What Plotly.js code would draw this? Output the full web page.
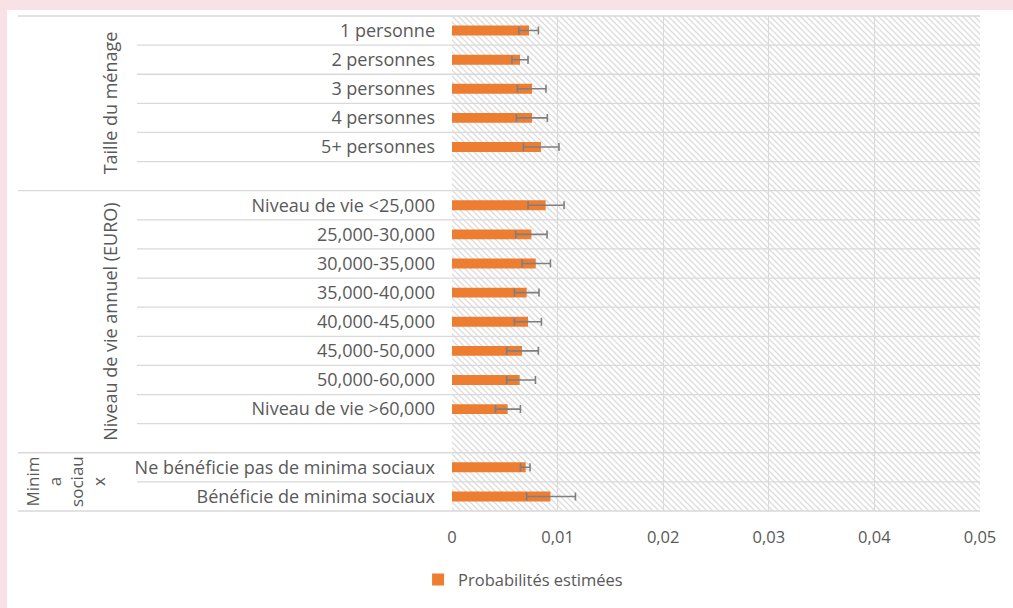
<!DOCTYPE html>
<html>
<head>
<meta charset="utf-8">
<script src="https://cdn.plot.ly/plotly-3.0.1.min.js"></script>
<style>
  html, body { margin: 0; padding: 0; background: #f9e2e5; width: 1013px; height: 608px; overflow: hidden; }
  #chart { position: absolute; left: 7px; top: 10px; width: 1006px; height: 598px; background: #ffffff; }
</style>
</head>
<body>
<div id="chart"></div>
<script>
// ---- Data ----
const categories = [
  "1 personne", "2 personnes", "3 personnes", "4 personnes", "5+ personnes", " ",
  "Niveau de vie <25,000", "25,000-30,000", "30,000-35,000", "35,000-40,000",
  "40,000-45,000", "45,000-50,000", "50,000-60,000", "Niveau de vie >60,000", "  ",
  "Ne bénéficie pas de minima sociaux", "Bénéficie de minima sociaux"
];
const barCategories = [
  "1 personne", "2 personnes", "3 personnes", "4 personnes", "5+ personnes",
  "Niveau de vie <25,000", "25,000-30,000", "30,000-35,000", "35,000-40,000",
  "40,000-45,000", "45,000-50,000", "50,000-60,000", "Niveau de vie >60,000",
  "Ne bénéficie pas de minima sociaux", "Bénéficie de minima sociaux"
];
const probabilites = [0.00729, 0.00644, 0.00758, 0.00758, 0.00843,
  0.00887, 0.00752, 0.00793, 0.00707, 0.00720, 0.00663, 0.00641, 0.00527,
  0.00698, 0.00932];
const borneBasse = [0.00632, 0.00568, 0.00619, 0.00610, 0.00676,
  0.00720, 0.00603, 0.00663, 0.00591, 0.00591, 0.00518, 0.00518, 0.00411,
  0.00648, 0.00707];
const borneHaute = [0.00818, 0.00720, 0.00890, 0.00903, 0.01013,
  0.01061, 0.00900, 0.00932, 0.00824, 0.00847, 0.00818, 0.00790, 0.00648,
  0.00739, 0.01169];
const groupes = [
  { label: "Taille du ménage", first: 0, last: 5 },
  { label: "Niveau de vie annuel (EURO)", first: 6, last: 14 },
  { label: "Minim<br>a<br>sociau<br>x", first: 15, last: 16 }
];
const seriesName = "Probabilités estimées";
const xTicks = [0, 0.01, 0.02, 0.03, 0.04, 0.05];

// ---- Layout geometry ----
const W = 1006, H = 598;
const mL = 445, mR = 33, mT = 6, mB = 97;
const plotW = W - mL - mR, plotH = H - mT - mB;
const n = categories.length;
const pxX = p => (p - 7 - mL) / plotW;      // page pixel -> paper x
const gridCol = '#d9d9d9';
const txtCol = '#595959';
const FONT = '"Open Sans", Lato, sans-serif';
const FS = 16.5;
const FS_CAT = 18;

const plusErr = probabilites.map((v, i) => borneHaute[i] - v);
const minusErr = probabilites.map((v, i) => v - borneBasse[i]);

const trace = {
  type: 'bar',
  orientation: 'h',
  name: seriesName,
  x: probabilites,
  y: barCategories,
  marker: { color: '#ED7D31' },
  error_x: {
    type: 'data', symmetric: false, array: plusErr, arrayminus: minusErr,
    color: '#7f7f7f', thickness: 1.6, width: 4
  },
  showlegend: true,
  hoverinfo: 'x+y'
};

// boundary lines
const shapes = [];
const groupStarts = new Set(groupes.map(g => g.first));
for (let j = 0; j <= n; j++) {
  const yp = 1 - j / n;
  const isGroup = j === 0 || j === n || groupStarts.has(j);
  shapes.push({
    type: 'line', xref: 'paper', yref: 'paper',
    x0: isGroup ? pxX(18) : pxX(137), x1: 1, y0: yp, y1: yp,
    line: { color: gridCol, width: 1.3 }, layer: 'below'
  });
}

const annotations = groupes.map(g => ({
  xref: 'paper', yref: 'paper',
  x: g.first === 15 ? pxX(66) : pxX(110),
  y: 1 - ((g.first + g.last + 1) / 2) / n,
  text: g.label, textangle: -90, showarrow: false,
  align: 'center', xanchor: 'center', yanchor: 'middle',
  font: { family: FONT, size: g.first === 15 ? 17 : FS_CAT, color: txtCol }
}));

const hatchSvg = "<svg xmlns='http://www.w3.org/2000/svg' width='" + plotW + "' height='" + plotH + "'>" +
  "<defs><pattern id='p' width='6' height='6' patternUnits='userSpaceOnUse'>" +
  "<path d='M-1,-1 L7,7 M-1,5 L1,7 M5,-1 L7,1' stroke='#dcdcdc' stroke-width='1.3'/></pattern></defs>" +
  "<rect width='100%' height='100%' fill='url(#p)'/></svg>";

const layout = {
  width: W, height: H,
  margin: { l: mL, r: mR, t: mT, b: mB },
  paper_bgcolor: '#ffffff',
  plot_bgcolor: 'rgba(0,0,0,0)',
  font: { family: FONT, size: FS, color: txtCol },
  separators: ', ',
  bargap: 0.66,
  xaxis: {
    range: [0, 0.05], tickvals: xTicks, showgrid: true, gridcolor: gridCol, gridwidth: 1.3,
    zeroline: false, showline: false, ticks: '', ticklabelstandoff: 14,
    tickfont: { family: FONT, size: FS, color: txtCol }, fixedrange: true
  },
  yaxis: {
    type: 'category', categoryorder: 'array', categoryarray: categories,
    range: [n - 0.5, -0.5], showgrid: false, zeroline: false, showline: false, ticks: '',
    ticklabelstandoff: 16, tickfont: { family: FONT, size: FS_CAT, color: txtCol }, fixedrange: true
  },
  showlegend: true,
  legend: {
    orientation: 'h', xref: 'container', yref: 'container',
    x: 0.513, xanchor: 'center', y: 0.047, yanchor: 'middle',
    font: { family: FONT, size: FS, color: txtCol }, bgcolor: 'rgba(0,0,0,0)'
  },
  shapes: shapes,
  annotations: annotations,
  images: [{
    source: 'data:image/svg+xml;charset=utf-8,' + encodeURIComponent(hatchSvg),
    xref: 'paper', yref: 'paper', x: 0, y: 1, sizex: 1, sizey: 1,
    sizing: 'stretch', xanchor: 'left', yanchor: 'top', layer: 'below'
  }]
};

Plotly.newPlot('chart', [trace], layout, { displayModeBar: false, staticPlot: true });
</script>
</body>
</html>
